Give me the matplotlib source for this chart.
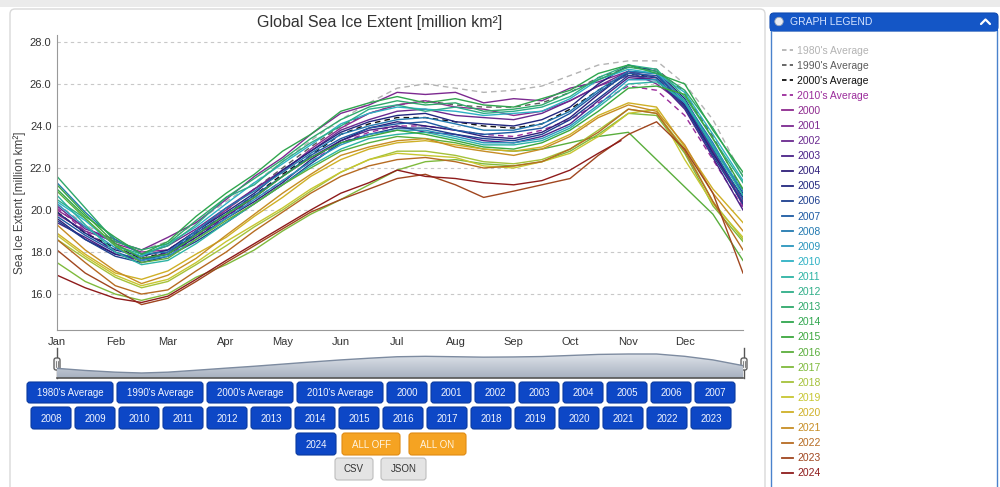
import numpy as np
import matplotlib

matplotlib.use("Agg")
import matplotlib.pyplot as plt
from matplotlib.patches import FancyBboxPatch, Rectangle, Circle
from matplotlib.colors import LinearSegmentedColormap

plt.rcParams["font.family"] = ["Liberation Sans", "DejaVu Sans"]

# ---- data (million km^2), sampled roughly twice a month ----
DAYS = [0, 15, 31, 45, 59, 74, 90, 105, 120, 135, 151, 166, 181, 196,
        212, 227, 243, 258, 273, 288, 304, 319, 334, 349, 365]
DAYS_2024 = [0, 15, 31, 45, 59, 74, 90, 105, 120, 135, 151, 166, 181, 196,
             212, 227, 243, 258, 273, 288, 300]

MONTH_DAYS = [0, 31, 59, 90, 120, 151, 181, 212, 243, 273, 304, 334]
MONTHS = ["Jan", "Feb", "Mar", "Apr", "May", "Jun",
          "Jul", "Aug", "Sep", "Oct", "Nov", "Dec"]
Y_TICKS = [16.0, 18.0, 20.0, 22.0, 24.0, 26.0, 28.0]

AVG_1980 = [20.3, 19.3, 18.5, 18.1, 18.5, 19.4, 20.4, 21.3, 22.3, 23.3, 24.3, 25.1, 25.8,
            26.0, 25.8, 25.6, 25.7, 25.9, 26.4, 26.9, 27.1, 27.1, 26.0, 24.3, 21.6]
AVG_1990 = [19.9, 18.9, 18.2, 17.8, 18.1, 19.0, 20.0, 21.0, 22.0, 23.0, 24.0, 24.6, 25.0,
            25.2, 25.0, 24.9, 24.9, 25.1, 25.6, 26.3, 26.8, 26.7, 25.6, 23.5, 20.9]
AVG_2000 = [19.9, 18.9, 18.2, 17.7, 18.0, 18.9, 19.8, 20.7, 21.7, 22.6, 23.6, 24.1, 24.4,
            24.4, 24.2, 24.0, 23.9, 24.1, 24.8, 25.7, 26.5, 26.3, 25.0, 22.8, 20.4]
AVG_2010 = [20.1, 19.0, 18.0, 17.5, 17.8, 18.7, 19.7, 20.5, 21.4, 22.3, 23.2, 23.7, 24.0,
            24.0, 23.8, 23.6, 23.5, 23.8, 24.3, 25.1, 25.9, 25.7, 24.5, 22.4, 20.1]

EXT_2000 = [20.0, 19.2, 18.4, 18.0, 18.1, 19.0, 20.0, 21.0, 21.8, 22.9, 23.9, 24.6, 25.0,
            25.2, 24.9, 24.8, 24.5, 24.7, 25.2, 25.9, 26.4, 26.2, 24.9, 22.7, 20.4]
EXT_2001 = [19.8, 19.0, 18.5, 18.1, 18.7, 19.4, 20.5, 21.6, 22.5, 23.6, 24.6, 25.0, 25.6,
            25.5, 25.6, 25.1, 25.3, 25.2, 25.8, 26.1, 26.6, 26.0, 25.0, 22.9, 20.2]
EXT_2002 = [20.2, 19.1, 18.6, 17.9, 18.3, 19.1, 20.1, 21.0, 21.9, 22.8, 23.8, 24.3, 24.7,
            24.8, 24.5, 24.4, 24.3, 24.6, 25.2, 25.9, 26.6, 26.3, 25.0, 22.8, 20.3]
EXT_2003 = [19.4, 18.7, 17.9, 17.6, 18.0, 18.8, 19.7, 20.6, 21.6, 22.5, 23.3, 23.8, 24.0,
            23.7, 23.6, 23.3, 23.2, 23.5, 24.1, 25.2, 26.3, 26.2, 24.8, 22.5, 20.0]
EXT_2004 = [19.6, 18.6, 17.9, 17.7, 17.9, 18.7, 19.6, 20.4, 21.3, 22.4, 23.3, 23.9, 24.2,
            24.0, 23.8, 23.5, 23.4, 23.7, 24.4, 25.5, 26.6, 26.5, 25.0, 22.7, 20.6]
EXT_2005 = [19.9, 18.9, 18.1, 17.8, 18.1, 19.0, 19.9, 20.8, 21.9, 22.8, 23.7, 24.2, 24.5,
            24.6, 24.2, 24.1, 24.0, 24.3, 24.9, 26.0, 26.9, 26.6, 25.3, 23.0, 20.8]
EXT_2006 = [19.5, 18.6, 17.8, 17.5, 17.8, 18.5, 19.4, 20.3, 21.2, 22.2, 23.2, 23.6, 23.9,
            23.9, 23.6, 23.4, 23.3, 23.6, 24.3, 25.3, 26.4, 26.3, 24.9, 22.6, 20.3]
EXT_2007 = [19.7, 18.8, 18.0, 17.6, 17.9, 18.9, 19.8, 20.7, 21.6, 22.6, 23.4, 23.9, 24.1,
            24.2, 23.8, 23.6, 23.7, 23.9, 24.6, 25.6, 26.5, 26.4, 25.1, 22.9, 20.5]
EXT_2008 = [21.3, 19.9, 18.6, 17.9, 18.0, 19.0, 20.1, 20.9, 21.8, 22.7, 23.6, 24.0, 24.3,
            24.4, 24.1, 23.8, 23.8, 24.1, 24.7, 25.7, 26.6, 26.5, 25.2, 23.2, 20.7]
EXT_2009 = [20.3, 19.2, 18.2, 17.6, 17.8, 18.6, 19.6, 20.5, 21.4, 22.3, 23.1, 23.6, 23.8,
            23.8, 23.5, 23.2, 23.2, 23.4, 24.0, 25.0, 26.2, 26.2, 25.1, 23.1, 20.9]
EXT_2010 = [20.4, 19.5, 18.3, 17.8, 18.4, 19.2, 20.3, 21.3, 22.2, 23.1, 24.1, 24.6, 24.9,
            24.8, 24.7, 24.5, 24.6, 24.7, 25.3, 26.2, 26.7, 26.5, 25.6, 23.6, 21.4]
EXT_2011 = [20.7, 19.3, 18.0, 17.4, 17.6, 18.4, 19.4, 20.3, 21.2, 22.1, 22.9, 23.4, 23.6,
            23.7, 23.4, 23.1, 23.1, 23.3, 23.9, 24.9, 26.0, 26.1, 25.2, 23.0, 20.7]
EXT_2012 = [20.5, 19.6, 18.3, 17.9, 18.3, 19.3, 20.6, 21.2, 22.3, 23.2, 24.0, 24.8, 25.0,
            24.7, 24.9, 24.6, 24.7, 24.9, 25.4, 26.3, 26.9, 26.7, 25.4, 23.4, 21.3]
EXT_2013 = [21.6, 20.1, 18.5, 18.1, 18.4, 19.5, 20.6, 21.5, 22.4, 23.4, 24.3, 24.9, 25.2,
            25.0, 25.1, 24.7, 24.8, 25.0, 25.6, 26.2, 26.8, 26.6, 25.7, 23.9, 21.6]
EXT_2014 = [21.0, 19.7, 18.7, 17.9, 18.5, 19.7, 20.8, 21.7, 22.8, 23.6, 24.7, 25.1, 25.4,
            25.1, 25.3, 25.0, 24.9, 25.3, 25.7, 26.5, 26.9, 26.5, 26.0, 23.8, 21.8]
EXT_2015 = [21.2, 19.8, 18.4, 17.7, 17.9, 18.8, 19.8, 20.6, 21.6, 22.5, 23.2, 23.5, 23.8,
            23.6, 23.3, 23.0, 22.9, 23.2, 23.8, 24.7, 25.8, 25.9, 25.5, 23.4, 21.0]
EXT_2016 = [20.9, 19.6, 18.3, 17.5, 17.7, 18.6, 19.5, 20.3, 21.2, 22.0, 22.8, 23.2, 23.5,
            23.4, 23.2, 22.9, 22.8, 22.9, 23.2, 23.5, 23.7, 22.4, 21.1, 19.8, 17.6]
EXT_2017 = [17.5, 16.6, 16.0, 15.7, 16.0, 16.8, 17.4, 18.1, 19.0, 19.8, 20.5, 21.2, 21.9,
            22.3, 22.4, 22.2, 22.1, 22.3, 22.8, 23.6, 24.6, 24.5, 22.7, 20.2, 18.5]
EXT_2018 = [18.6, 17.7, 16.8, 16.3, 16.6, 17.4, 18.3, 19.2, 20.0, 20.9, 21.8, 22.4, 22.8,
            22.8, 22.6, 22.3, 22.2, 22.4, 22.9, 23.8, 24.8, 24.6, 22.9, 20.4, 18.6]
EXT_2019 = [18.8, 17.8, 16.9, 16.4, 16.7, 17.5, 18.5, 19.3, 20.1, 21.0, 21.8, 22.4, 22.7,
            22.6, 22.5, 22.1, 22.0, 22.3, 22.7, 23.5, 24.6, 24.8, 22.4, 20.3, 18.7]
EXT_2020 = [18.9, 17.9, 17.0, 16.7, 17.1, 17.9, 18.7, 19.7, 20.6, 21.6, 22.4, 22.9, 23.2,
            23.3, 23.1, 22.9, 22.8, 23.0, 23.6, 24.5, 25.1, 24.9, 23.0, 21.0, 19.4]
EXT_2021 = [19.3, 18.1, 17.1, 16.5, 16.9, 17.7, 18.8, 19.8, 20.8, 21.7, 22.6, 23.0, 23.3,
            23.4, 23.0, 22.8, 22.6, 22.9, 23.5, 24.4, 25.0, 24.7, 23.1, 20.8, 19.0]
EXT_2022 = [18.6, 17.5, 16.4, 16.0, 16.2, 17.1, 18.0, 19.0, 19.9, 20.8, 21.6, 22.1, 22.4,
            22.5, 22.3, 22.0, 22.1, 22.3, 22.9, 23.7, 24.8, 24.6, 22.8, 20.4, 18.1]
EXT_2023 = [18.1, 17.0, 16.2, 15.5, 15.8, 16.6, 17.5, 18.3, 19.1, 19.9, 20.5, 21.0, 21.5,
            21.7, 21.2, 20.6, 20.9, 21.2, 21.5, 22.6, 23.6, 24.2, 22.9, 20.8, 17.0]
EXT_2024 = [16.9, 16.3, 15.8, 15.6, 15.9, 16.7, 17.6, 18.4, 19.2, 20.0, 20.8, 21.3, 21.9,
            21.6, 21.5, 21.3, 21.2, 21.4, 21.9, 22.7, 23.3]

AVG_LABELS = ["1980's Average", "1990's Average", "2000's Average", "2010's Average"]
AVG_VALUES = [AVG_1980, AVG_1990, AVG_2000, AVG_2010]
AVG_COLORS = ["#b3b3b3", "#5c5c5c", "#111111", "#9b2c9b"]

YEAR_LABELS = [str(y) for y in range(2000, 2025)]
YEAR_VALUES = [EXT_2000, EXT_2001, EXT_2002, EXT_2003, EXT_2004, EXT_2005, EXT_2006,
               EXT_2007, EXT_2008, EXT_2009, EXT_2010, EXT_2011, EXT_2012, EXT_2013,
               EXT_2014, EXT_2015, EXT_2016, EXT_2017, EXT_2018, EXT_2019, EXT_2020,
               EXT_2021, EXT_2022, EXT_2023, EXT_2024]
YEAR_COLORS = ["#8e2a8f", "#7c2a90", "#6a2a8f", "#4a2288", "#2e1f7a", "#22277f",
               "#1d3f8f", "#1d5aa3", "#2279b0", "#2a95bd", "#2eb1c4", "#2db3a4",
               "#2eae88", "#2ea86a", "#2fa64e", "#3ba73e", "#5aae3c", "#7fba3c",
               "#a5c23a", "#c7c631", "#cfb026", "#c78d24", "#b66b22", "#a0461f",
               "#8e1b1b"]

W, H = 1000, 487
BLUE = "#0d47c6"
BLUE_EDGE = "#0a3aa0"


def px_axes(fig, left, top, right, bottom, **kw):
    return fig.add_axes([left / W, 1 - bottom / H, (right - left) / W, (bottom - top) / H], **kw)


fig = plt.figure(figsize=(W / 100, H / 100), dpi=100, facecolor="white")

# full-figure layer in pixel coordinates for the page furniture
ui = px_axes(fig, 0, 0, W, H, zorder=0)
ui.set_xlim(0, W)
ui.set_ylim(H, 0)
ui.axis("off")

ui.add_patch(Rectangle((0, 0), W, 7, fc="#ebebeb", ec="none"))
ui.add_patch(FancyBboxPatch((10, 9), 755, 500, boxstyle="round,pad=0,rounding_size=5",
                            fc="white", ec="#d9d9d9", lw=1))
ui.text(380, 22, "Global Sea Ice Extent [million km²]", ha="center", va="center",
        fontsize=11.5, color="#333333")
ui.text(20, 203, "Sea Ice Extent [million km²]", ha="center", va="center",
        rotation=90, fontsize=8.5, color="#444444")

# ---- main chart ----
ax = px_axes(fig, 57, 35, 743, 330, zorder=2)
ax.patch.set_visible(False)
for values, color in zip(AVG_VALUES, AVG_COLORS):
    ax.plot(DAYS, values, color=color, lw=1.0, linestyle=(0, (4, 3)))
for label, values, color in zip(YEAR_LABELS, YEAR_VALUES, YEAR_COLORS):
    days = DAYS_2024 if label == "2024" else DAYS
    ax.plot(days, values, color=color, lw=1.0)

ax.set_xlim(0, 365)
ax.set_ylim(14.29, 28.33)
ax.set_yticks(Y_TICKS)
ax.set_yticklabels([f"{v:.1f}" for v in Y_TICKS])
ax.set_xticks(MONTH_DAYS)
ax.set_xticklabels(MONTHS)
ax.tick_params(length=0, labelsize=8, labelcolor="#333333")
ax.tick_params(axis="y", pad=4)
ax.tick_params(axis="x", pad=5)
ax.grid(axis="y", color="#c8c8c8", lw=0.8, linestyle=(0, (3, 3)))
ax.set_axisbelow(True)
for side in ("top", "right"):
    ax.spines[side].set_visible(False)
ax.spines["left"].set_color("#999999")
ax.spines["bottom"].set_color("#999999")

# ---- navigator ----
nav = px_axes(fig, 57, 348, 743, 378, zorder=2)
nav.patch.set_visible(False)
nav_low, nav_high = 15.73, 29.94
nav.set_xlim(0, 365)
nav.set_ylim(nav_low, nav_high)
poly = nav.fill_between(DAYS, nav_low, AVG_1980, color="none")
grad = nav.imshow(np.linspace(0, 1, 64).reshape(-1, 1), extent=[0, 365, nav_low, nav_high],
                  aspect="auto", origin="upper",
                  cmap=LinearSegmentedColormap.from_list("nav", ["#eef1f5", "#a7b1c0"]))
grad.set_clip_path(poly.get_paths()[0], nav.transData)
nav.plot(DAYS, AVG_1980, color="#7d8ba0", lw=1)
nav.set_xticks([])
nav.set_yticks([])
for side in ("top", "right", "left"):
    nav.spines[side].set_visible(False)
nav.spines["bottom"].set_color("#555555")
nav.spines["bottom"].set_linewidth(1.2)

for hx in (57, 744):
    ui.plot([hx, hx], [348, 378], color="#555555", lw=1, zorder=3)
    ui.add_patch(FancyBboxPatch((hx - 3, 358), 6, 12, boxstyle="round,pad=0,rounding_size=2",
                                fc="#f2f2f2", ec="#555555", lw=0.9, zorder=4))
    ui.plot([hx - 0.8, hx - 0.8], [361, 367], color="#555555", lw=0.5, zorder=5)
    ui.plot([hx + 0.8, hx + 0.8], [361, 367], color="#555555", lw=0.5, zorder=5)


# ---- buttons ----
def button(x0, y0, x1, y1, label, face=BLUE, edge=BLUE_EDGE, color="#f2f5ff"):
    ui.add_patch(FancyBboxPatch((x0, y0), x1 - x0, y1 - y0,
                                boxstyle="round,pad=0,rounding_size=3",
                                fc=face, ec=edge, lw=0.8))
    ui.text((x0 + x1) / 2, (y0 + y1) / 2 + 0.5, label, ha="center", va="center",
            fontsize=7, color=color)


for i, label in enumerate(AVG_LABELS):
    button(27 + 90 * i, 382, 113 + 90 * i, 403, label)
for i, label in enumerate(YEAR_LABELS[:8]):
    button(387 + 44 * i, 382, 427 + 44 * i, 403, label)
for i, label in enumerate(YEAR_LABELS[8:24]):
    button(31 + 44 * i, 407, 71 + 44 * i, 429, label)
button(296, 433, 336, 455, YEAR_LABELS[24])
button(342, 433, 400, 455, "ALL OFF", face="#f5a322", edge="#e08b12", color="#fff4e0")
button(409, 433, 466, 455, "ALL ON", face="#f5a322", edge="#e08b12", color="#fff4e0")
button(335, 458, 373, 480, "CSV", face="#e4e4e4", edge="#bdbdbd", color="#333333")
button(381, 458, 426, 480, "JSON", face="#e4e4e4", edge="#bdbdbd", color="#333333")

# ---- legend panel ----
ui.add_patch(Rectangle((771, 30), 226, 470, fc="white", ec="#4a82cc", lw=1))
ui.add_patch(FancyBboxPatch((770, 13), 228, 18, boxstyle="round,pad=0,rounding_size=4",
                            fc="#1456c6", ec="#0f4ab0", lw=0.8))
ui.add_patch(Rectangle((770, 24), 228, 7, fc="#1456c6", ec="none"))
ui.add_patch(Circle((779, 21.5), 4.2, fc="#e8ecf2", ec="#9aa6b8", lw=0.6))
ui.text(790, 22, "GRAPH LEGEND", ha="left", va="center", fontsize=7.5, color="#d6e4ff")
ui.plot([981, 985.5, 990], [24, 19.5, 24], color="white", lw=1.6, solid_capstyle="round")

legend_labels = AVG_LABELS + YEAR_LABELS
legend_colors = AVG_COLORS + YEAR_COLORS
for i, (label, color) in enumerate(zip(legend_labels, legend_colors)):
    y = 50 + 15.1 * i
    style = (0, (2.5, 1.8)) if i < 4 else "-"
    ui.plot([782, 793], [y, y], color=color, lw=1.3, linestyle=style)
    ui.text(797, y + 0.5, label, ha="left", va="center", fontsize=7.5, color=color)

fig.savefig("out.png", dpi=100, facecolor="white")
